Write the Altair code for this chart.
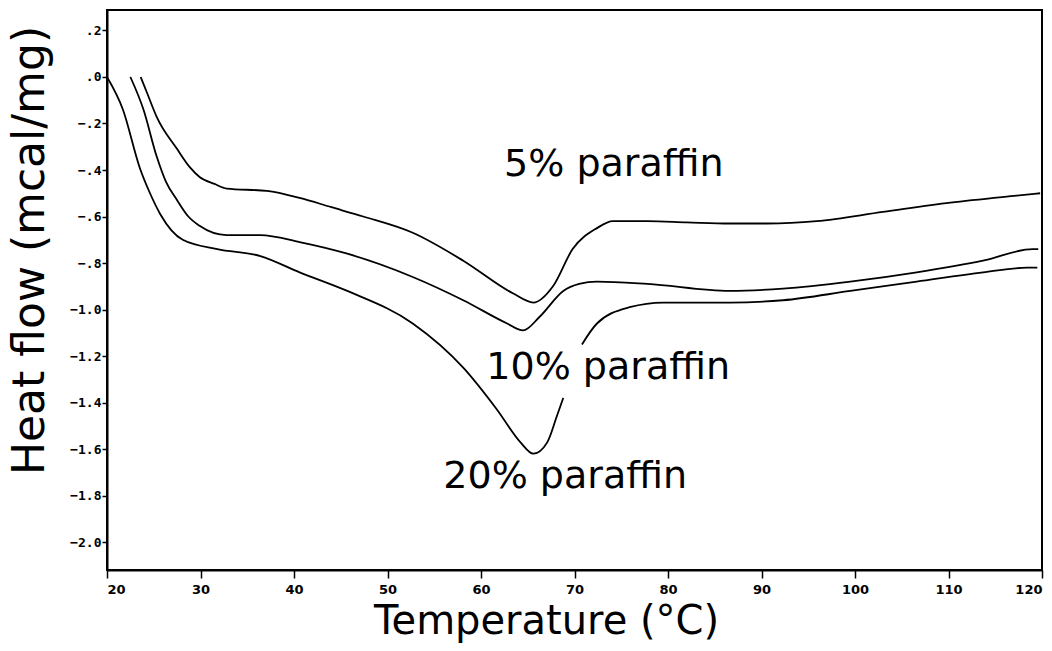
import altair as alt
import pandas as pd

# 5% paraffin
x5 = [23.6, 24.3, 25.3, 27.5, 28.9, 29.9, 31.5, 32.8, 37.1, 40.6, 44.0, 47.4, 52.7, 58.1, 63.4,
      65.6, 67.7, 69.8, 72.4, 74.1, 77.8, 82.0, 86.6, 90.6, 95.9, 103.0, 110.2, 117.3, 119.8]
y5 = [0.0, -0.07, -0.17, -0.31, -0.39, -0.43, -0.46, -0.48, -0.49, -0.52, -0.56, -0.60, -0.67, -0.79, -0.93,
      -0.97, -0.90, -0.74, -0.65, -0.62, -0.62, -0.625, -0.63, -0.63, -0.62, -0.58, -0.54, -0.51, -0.50]

# 10% paraffin
x10 = [22.5, 23.9, 25.3, 26.3, 27.5, 28.7, 29.9, 32.8, 36.4, 40.6, 45.7, 52.7, 58.1, 62.8, 64.5,
       66.3, 68.8, 70.5, 72.4, 77.8, 86.6, 92.3, 99.5, 106.6, 113.7, 119.0, 119.6]
y10 = [0.0, -0.14, -0.34, -0.45, -0.53, -0.60, -0.64, -0.68, -0.68, -0.71, -0.76, -0.86, -0.96, -1.06, -1.09,
       -1.03, -0.92, -0.89, -0.88, -0.89, -0.92, -0.91, -0.88, -0.84, -0.79, -0.74, -0.74]

# 20% paraffin (two pieces: the trace is broken where the "10% paraffin" label sits)
x20a = [20.0, 21.7, 23.5, 24.6, 25.7, 28.1, 31.8, 36.4, 40.6, 45.7, 52.7, 58.1, 61.7, 64.2, 65.6, 67.1, 68.1, 68.8]
y20a = [0.0, -0.14, -0.39, -0.50, -0.59, -0.70, -0.74, -0.77, -0.84, -0.92, -1.06, -1.25, -1.43, -1.57, -1.62, -1.57, -1.46, -1.38]
x20b = [70.8, 72.4, 75.9, 79.5, 86.6, 92.3, 99.5, 106.6, 113.7, 118.4, 119.5]
y20b = [-1.15, -1.06, -0.99, -0.97, -0.97, -0.96, -0.92, -0.88, -0.84, -0.82, -0.82]

label_text = ["5% paraffin", "10% paraffin", "20% paraffin"]
label_x = [74.2, 73.6, 69.0]
label_y = [-0.38, -1.25, -1.72]

y_ticks = [0.2, 0.0, -0.2, -0.4, -0.6, -0.8, -1.0, -1.2, -1.4, -1.6, -1.8, -2.0]
x_ticks = [20, 30, 40, 50, 60, 70, 80, 90, 100, 110, 120]

rows = []
for seg, xs, ys in [("5", x5, y5), ("10", x10, y10), ("20a", x20a, y20a), ("20b", x20b, y20b)]:
    for a, b in zip(xs, ys):
        rows.append({"seg": seg, "T": a, "H": b})
df = pd.DataFrame(rows)
labels = pd.DataFrame({"text": label_text, "T": label_x, "H": label_y})

xscale = alt.Scale(domain=[20, 120], nice=False, zero=False)
yscale = alt.Scale(domain=[-2.12, 0.288], nice=False, zero=False)

xaxis = alt.Axis(values=x_ticks, title="Temperature (°C)", grid=False,
                 tickSize=8, tickColor="black", tickWidth=1.5,
                 domainColor="black", domainWidth=2,
                 labelFont="DejaVu Sans", labelFontWeight="bold", labelFontSize=13,
                 labelColor="black", labelPadding=5,
                 titleFont="DejaVu Sans", titleFontSize=40, titleFontWeight="normal",
                 titleColor="black", titleX=439, titleY=63, titleAlign="center",
                 titleBaseline="alphabetic")
yaxis = alt.Axis(values=y_ticks, title="Heat flow (mcal/mg)", grid=False,
                 labelExpr="replace(format(datum.value, '.1f'), '0.', '.')",
                 tickSize=5, tickColor="black", tickWidth=1.5,
                 domainColor="black", domainWidth=2,
                 labelFont="DejaVu Sans Mono", labelFontWeight="bold", labelFontSize=13,
                 labelColor="black", labelPadding=1,
                 titleFont="DejaVu Sans", titleFontSize=44, titleFontWeight="normal",
                 titleColor="black", titleX=-64, titleY=240, titleAngle=270,
                 titleAlign="center", titleBaseline="alphabetic")

lines = alt.Chart(df).mark_line(color="black", strokeWidth=1.8, interpolate="monotone", clip=True).encode(
    x=alt.X("T:Q", scale=xscale, axis=xaxis),
    y=alt.Y("H:Q", scale=yscale, axis=yaxis),
    detail="seg:N",
    order="T:Q",
)

text = alt.Chart(labels).mark_text(font="DejaVu Sans", fontSize=38, color="black", align="center",
                                   baseline="middle").encode(
    x=alt.X("T:Q", scale=xscale),
    y=alt.Y("H:Q", scale=yscale),
    text="text:N",
)

chart = alt.layer(lines, text).properties(
    width=935, height=560,
    autosize=alt.AutoSizeParams(type="none"),
    padding={"left": 107, "top": 10, "right": 10, "bottom": 81},
).configure(background="white").configure_view(stroke="black", strokeWidth=2)

chart.save("out.html", embed_options={"renderer": "svg", "actions": False})
